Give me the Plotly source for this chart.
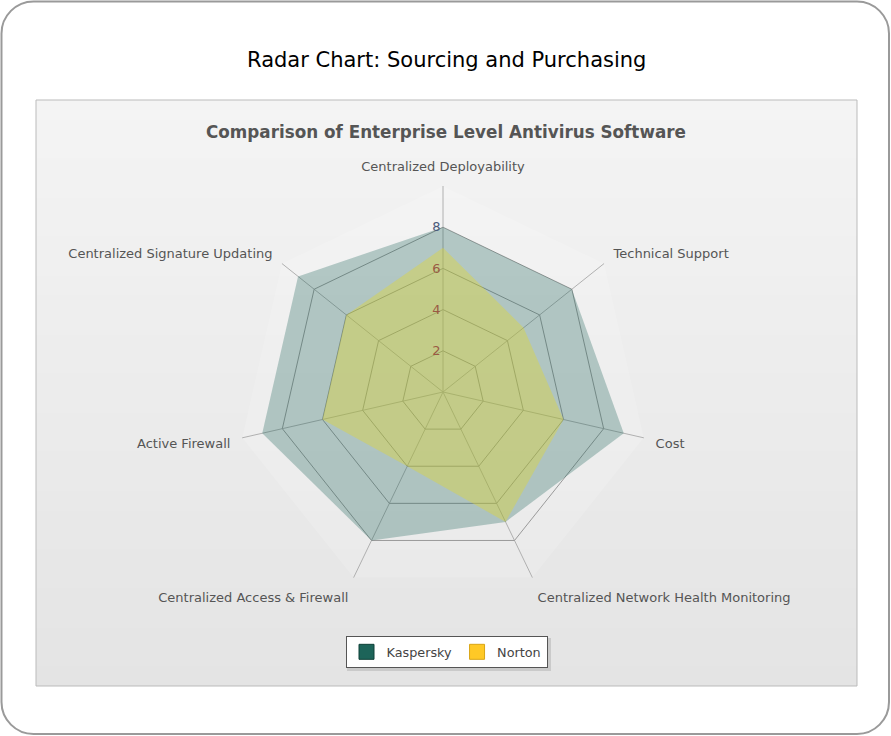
import plotly.graph_objects as go

W, H = 891, 736

categories = [
    "Centralized Deployability",
    "Technical Support",
    "Cost",
    "Centralized Network Health Monitoring",
    "Centralized Access & Firewall",
    "Active Firewall",
    "Centralized Signature Updating",
]
kaspersky = [8, 8, 9, 7, 8, 9, 9]
norton = [7, 5, 6, 7, 4, 6, 6]
tick_vals = [2, 4, 6, 8]


def px(x):
    return x / W


def py(y):
    return 1 - y / H


def rounded_rect(x0, y0, x1, y1, r):
    # path in paper coords, corners built from cubic curves
    k = 0.55 * r
    pts = [
        f"M {px(x0 + r)},{py(y0)}",
        f"L {px(x1 - r)},{py(y0)}",
        f"C {px(x1 - r + k)},{py(y0)} {px(x1)},{py(y0 + r - k)} {px(x1)},{py(y0 + r)}",
        f"L {px(x1)},{py(y1 - r)}",
        f"C {px(x1)},{py(y1 - r + k)} {px(x1 - r + k)},{py(y1)} {px(x1 - r)},{py(y1)}",
        f"L {px(x0 + r)},{py(y1)}",
        f"C {px(x0 + r - k)},{py(y1)} {px(x0)},{py(y1 - r + k)} {px(x0)},{py(y1 - r)}",
        f"L {px(x0)},{py(y0 + r)}",
        f"C {px(x0)},{py(y0 + r - k)} {px(x0 + r - k)},{py(y0)} {px(x0 + r)},{py(y0)}",
        "Z",
    ]
    return " ".join(pts)


shapes = [
    dict(type="path", xref="paper", yref="paper", path=rounded_rect(1.5, 1.5, 889, 734, 32),
         line=dict(color="#9a9a9a", width=2), fillcolor="white", layer="below"),
]

# panel with a vertical grey gradient made of overlapping bands
top, bottom, left, right = 100, 686, 36, 857
n = 30
step = (bottom - top) / n
for i in range(n):
    t = i / (n - 1)
    g = round(244 - (244 - 228) * t)
    y0 = top + step * i
    y1 = min(bottom, y0 + step + 2)
    shapes.append(dict(type="rect", xref="paper", yref="paper",
                       x0=px(left), x1=px(right), y0=py(y0), y1=py(y1),
                       fillcolor=f"rgb({g},{g},{g})", line=dict(width=0), layer="below"))
shapes.append(dict(type="rect", xref="paper", yref="paper",
                   x0=px(left), x1=px(right), y0=py(top), y1=py(bottom),
                   line=dict(color="#bbbbbb", width=1), layer="below"))
# legend shadow
shapes.append(dict(type="rect", xref="paper", yref="paper",
                   x0=px(347), x1=px(551), y0=py(638), y1=py(671),
                   fillcolor="#cacaca", line=dict(width=0), layer="below"))

fig = go.Figure()
fig.add_trace(go.Scatterpolar(
    r=kaspersky + kaspersky[:1], theta=categories + categories[:1],
    fill="toself", fillcolor="rgba(29,100,89,0.3)", mode="lines",
    line=dict(width=0, color="rgba(29,100,89,0.3)"), name="Kaspersky", showlegend=False,
))
fig.add_trace(go.Scatterpolar(
    r=norton + norton[:1], theta=categories + categories[:1],
    fill="toself", fillcolor="rgba(225,215,50,0.4)", mode="lines",
    line=dict(width=0, color="rgba(225,215,50,0.4)"), name="Norton", showlegend=False,
))
# legend swatches (on the overlay subplot, which carries the radial tick labels on top)
for name, col, edge in [("Kaspersky", "#1d6459", "#0f4038"), ("Norton", "#ffc926", "#d9a514")]:
    fig.add_trace(go.Scatterpolar(
        r=[None], theta=[categories[0]], mode="markers", name=name, subplot="polar2",
        marker=dict(symbol="square", size=15, color=col, line=dict(color=edge, width=1)),
    ))

tick_text = [f"<span style='color:#9a5a44'>{v}</span>" for v in tick_vals[:-1]]
tick_text.append(f"<span style='color:#4a5a7a'>{tick_vals[-1]}</span>")

domain = dict(x=[px(443 - 206), px(443 + 206)], y=[py(392 + 206), py(392 - 206)])

fig.update_layout(
    width=W, height=H,
    margin=dict(l=0, r=0, t=0, b=0),
    paper_bgcolor="white",
    font=dict(family="DejaVu Sans", size=13, color="#555555"),
    shapes=shapes,
    polar=dict(
        domain=domain,
        gridshape="linear",
        bgcolor="rgba(255,255,255,0.15)",
        radialaxis=dict(
            range=[0, 10], tickvals=tick_vals, showticklabels=False,
            angle=90, showline=False, ticks="", gridcolor="#9a9a9a", gridwidth=1,
            layer="below traces",
        ),
        angularaxis=dict(
            direction="clockwise", rotation=90,
            showline=False, ticks="outside", ticklen=9, tickcolor="rgba(0,0,0,0)",
            gridcolor="#b0b0b0", gridwidth=1,
            layer="below traces", tickfont=dict(size=13, color="#555555"),
        ),
    ),
    polar2=dict(
        domain=domain,
        gridshape="linear",
        bgcolor="rgba(0,0,0,0)",
        radialaxis=dict(
            range=[0, 10], tickvals=tick_vals, ticktext=tick_text,
            angle=90, tickangle=90, side="counterclockwise",
            showline=False, showgrid=False, ticks="", tickfont=dict(size=13),
        ),
        angularaxis=dict(visible=False, direction="clockwise", rotation=90),
    ),
    legend=dict(
        orientation="h", x=px(446.5), xanchor="center", y=py(652), yanchor="middle",
        bgcolor="white", bordercolor="#555555", borderwidth=1,
        font=dict(size=12.8, color="#444444"),
    ),
    annotations=[
        dict(text="Radar Chart: Sourcing and Purchasing", xref="paper", yref="paper",
             x=px(446), y=py(60), showarrow=False, xanchor="center", yanchor="middle",
             font=dict(size=21, color="black")),
        dict(text="<b>Comparison of Enterprise Level Antivirus Software</b>", xref="paper",
             yref="paper", x=px(446), y=py(132), showarrow=False, xanchor="center",
             yanchor="middle", font=dict(size=16.8, color="#555555")),
    ],
)

fig.write_html("out.html", config={"displayModeBar": False},
               post_script="document.body.style.margin='0';")
